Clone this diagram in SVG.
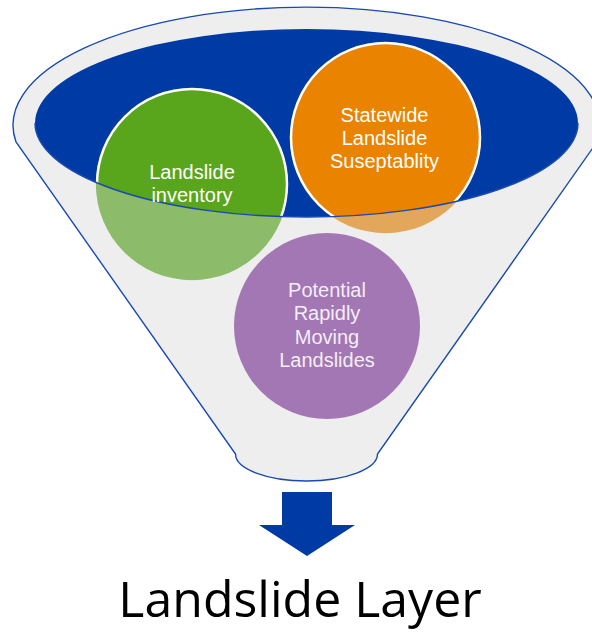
<svg xmlns="http://www.w3.org/2000/svg" width="592" height="632" viewBox="0 0 592 632">
  <style>
    .body { fill: #eeeeee; }
    .outline { fill: none; stroke: #1a4aae; stroke-width: 1.4; }
    .mouth { fill: #003ba5; }
    .ring { stroke: #ffffff; stroke-width: 2.5; }
    .label { font-family: "Liberation Sans", Arial, sans-serif; font-size: 20px; fill: #ffffff; text-anchor: middle; }
    .soft { fill: #f4eef6; }
    .title { font-family: "Open Sans", "Liberation Sans", sans-serif; font-size: 50px; fill: #000000; text-anchor: middle; }
  </style>
  <defs>
    <path id="funnel-shape" d="M 16,142 A 293.5 118 0 1 1 597,142 L 377.5,454 A 71 27 0 0 1 235.5,454 Z"/>
    <!-- front wall: funnel outline with the mouth cut out -->
    <clipPath id="front-wall">
      <path clip-rule="evenodd" d="M 16,142 A 293.5 118 0 1 1 597,142 L 377.5,454 A 71 27 0 0 1 235.5,454 Z M 35,123 A 271.5 94 0 1 0 578,123 A 271.5 94 0 1 0 35,123 Z"/>
    </clipPath>
  </defs>

  <!-- funnel body and its open mouth -->
  <g id="funnel">
    <use href="#funnel-shape" class="body"/>
    <ellipse class="mouth" cx="306.5" cy="123" rx="271.5" ry="94"/>
  </g>

  <!-- circles dropped into the funnel; the parts behind the front wall are faded -->
  <g id="node-inventory">
    <circle class="ring" cx="192" cy="184" r="95" fill="#59a51c"/>
    <circle cx="192" cy="184" r="96.2" fill="#8cbb6a" clip-path="url(#front-wall)"/>
  </g>
  <g id="node-susceptibility">
    <circle class="ring" cx="385.5" cy="137.5" r="94.5" fill="#e98300"/>
    <circle cx="385.5" cy="137.5" r="95.7" fill="#e3a75c" clip-path="url(#front-wall)"/>
  </g>

  <!-- lower lip of the mouth and funnel outline -->
  <g id="funnel-front">
    <path class="outline" d="M 35,123 A 271.5 94 0 0 0 578,123"/>
    <use href="#funnel-shape" class="outline"/>
  </g>

  <g id="node-rapid">
    <circle cx="327" cy="326" r="93" fill="#a277b3"/>
  </g>

  <g id="labels">
    <text class="label" x="192" y="179">Landslide<tspan x="192" dy="23">inventory</tspan></text>
    <text class="label" x="384.5" y="122">Statewide<tspan x="384.5" dy="23">Landslide</tspan><tspan x="384.5" dy="23">Suseptablity</tspan></text>
    <text class="label soft" x="327" y="297">Potential<tspan x="327" dy="23.3">Rapidly</tspan><tspan x="327" dy="23.3">Moving</tspan><tspan x="327" dy="23.3">Landslides</tspan></text>
  </g>

  <!-- output arrow and result -->
  <g id="connectors">
    <polygon points="282,492 332,492 332,525 355,525 307,556 259,525 282,525" fill="#003ba5"/>
  </g>
  <g id="node-result">
    <text class="title" x="300" y="617">Landslide Layer</text>
  </g>
</svg>
